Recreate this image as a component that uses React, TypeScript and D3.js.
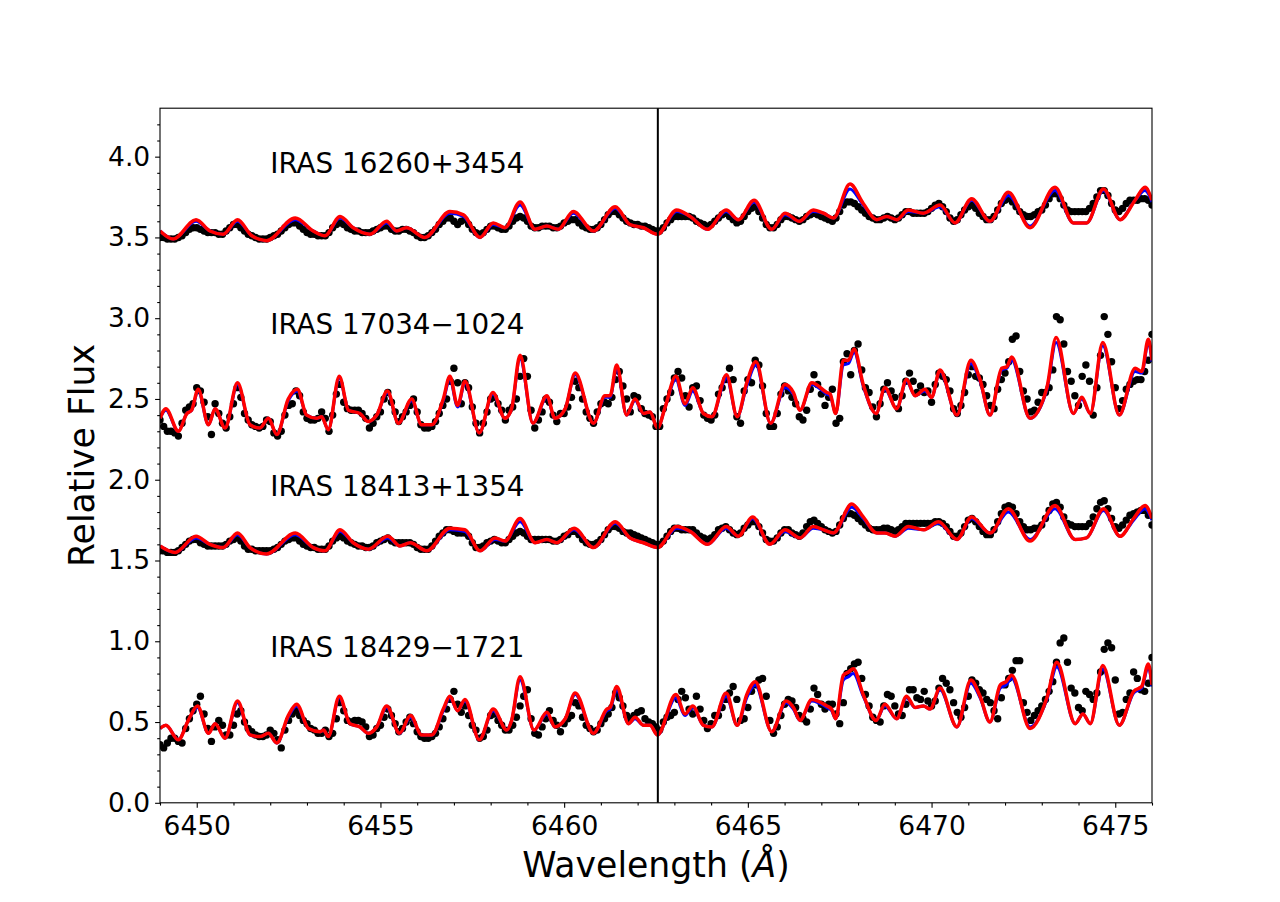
import React, { useEffect, useRef } from "react";
import * as d3 from "d3";

// figure geometry (matplotlib default subplot box on a 1280x902 canvas)
const WIDTH = 1280;
const HEIGHT = 902;
const LEFT = 160;
const RIGHT = 1152;
const TOP = 108.2;
const BOTTOM = 802.8;

const X_DOMAIN = [6449, 6476];
const Y_DOMAIN = [0, 4.3];
const X_MAJOR = [6450, 6455, 6460, 6465, 6470, 6475];
const Y_MAJOR = [0, 0.5, 1, 1.5, 2, 2.5, 3, 3.5, 4];
const ORDER_EDGE = 6462.55; // vertical marker between the two echelle orders

// observed spectra: one point every 0.1 A starting at 6449.0 A
const OBS_START = 6449.0;
const OBS_STEP = 0.1;

const obs16260 = [
  3.50, 3.50, 3.49, 3.49, 3.49, 3.50, 3.51, 3.53, 3.55, 3.56,
  3.56, 3.55, 3.54, 3.53, 3.53, 3.53, 3.52, 3.52, 3.54, 3.56,
  3.58, 3.58, 3.56, 3.54, 3.52, 3.51, 3.50, 3.49, 3.49, 3.49,
  3.50, 3.51, 3.52, 3.54, 3.56, 3.58, 3.59, 3.59, 3.57, 3.55,
  3.53, 3.52, 3.52, 3.51, 3.51, 3.51, 3.53, 3.56, 3.58, 3.59,
  3.58, 3.56, 3.55, 3.54, 3.54, 3.53, 3.53, 3.53, 3.54, 3.55,
  3.56, 3.57, 3.57, 3.55, 3.54, 3.54, 3.55, 3.55, 3.54, 3.53,
  3.51, 3.50, 3.50, 3.51, 3.53, 3.55, 3.58, 3.60, 3.62, 3.62,
  3.60, 3.58, 3.60, 3.61, 3.58, 3.55, 3.53, 3.52, 3.53, 3.55,
  3.57, 3.57, 3.56, 3.55, 3.55, 3.57, 3.60, 3.62, 3.63, 3.62,
  3.60, 3.57, 3.56, 3.56, 3.57, 3.57, 3.57, 3.56, 3.56, 3.57,
  3.59, 3.60, 3.61, 3.61, 3.59, 3.57, 3.56, 3.55, 3.55, 3.56,
  3.58, 3.61, 3.64, 3.66, 3.66, 3.64, 3.62, 3.60, 3.59, 3.58,
  3.58, 3.57, 3.57, 3.56, 3.55, 3.54, 3.54, 3.56, 3.59, 3.61,
  3.63, 3.63, 3.63, 3.63, 3.63, 3.62, 3.60, 3.59, 3.58, 3.57,
  3.58, 3.60, 3.62, 3.64, 3.65, 3.63, 3.61, 3.59, 3.60, 3.63,
  3.66, 3.68, 3.69, 3.66, 3.62, 3.58, 3.56, 3.56, 3.58, 3.61,
  3.63, 3.63, 3.62, 3.61, 3.60, 3.61, 3.63, 3.64, 3.65, 3.64,
  3.63, 3.62, 3.61, 3.60, 3.62, 3.66, 3.70, 3.72, 3.72, 3.71,
  3.69, 3.67, 3.65, 3.63, 3.62, 3.61, 3.61, 3.62, 3.63, 3.62,
  3.61, 3.62, 3.64, 3.66, 3.66, 3.65, 3.65, 3.65, 3.65, 3.66,
  3.68, 3.70, 3.71, 3.69, 3.66, 3.62, 3.60, 3.61, 3.64, 3.67,
  3.69, 3.70, 3.68, 3.65, 3.63, 3.61, 3.61, 3.63, 3.67, 3.71,
  3.73, 3.74, 3.72, 3.69, 3.66, 3.64, 3.63, 3.63, 3.64, 3.66,
  3.67, 3.70, 3.74, 3.77, 3.77, 3.74, 3.70, 3.67, 3.66, 3.66,
  3.66, 3.66, 3.66, 3.68, 3.71, 3.75, 3.79, 3.79, 3.76, 3.71,
  3.67, 3.66, 3.68, 3.71, 3.73, 3.73, 3.73, 3.74, 3.74, 3.73,
  3.70,
];

const obs17034 = [
  2.37, 2.33, 2.30, 2.30, 2.29, 2.27, 2.35, 2.43, 2.45, 2.47,
  2.57, 2.55, 2.48, 2.39, 2.28, 2.47, 2.41, 2.35, 2.32, 2.39,
  2.47, 2.57, 2.51, 2.41, 2.37, 2.34, 2.33, 2.32, 2.33, 2.37,
  2.36, 2.29, 2.27, 2.30, 2.40, 2.46, 2.47, 2.55, 2.52, 2.42,
  2.38, 2.37, 2.37, 2.38, 2.42, 2.38, 2.30, 2.40, 2.53, 2.59,
  2.48, 2.44, 2.43, 2.43, 2.43, 2.41, 2.38, 2.32, 2.35, 2.39,
  2.42, 2.50, 2.54, 2.48, 2.42, 2.36, 2.39, 2.42, 2.46, 2.50,
  2.42, 2.34, 2.32, 2.32, 2.33, 2.36, 2.41, 2.46, 2.50, 2.61,
  2.69, 2.60, 2.47, 2.60, 2.57, 2.45, 2.35, 2.29, 2.35, 2.42,
  2.50, 2.51, 2.47, 2.43, 2.37, 2.43, 2.45, 2.50, 2.64, 2.75,
  2.64, 2.43, 2.32, 2.37, 2.42, 2.50, 2.48, 2.40, 2.36, 2.41,
  2.41, 2.45, 2.51, 2.61, 2.57, 2.50, 2.42, 2.38, 2.35, 2.42,
  2.47, 2.48, 2.47, 2.51, 2.62, 2.67, 2.58, 2.50, 2.42, 2.52,
  2.51, 2.44, 2.41, 2.40, 2.39, 2.33, 2.33, 2.44, 2.50, 2.54,
  2.63, 2.67, 2.63, 2.52, 2.45, 2.57, 2.58, 2.49, 2.40, 2.38,
  2.37, 2.40, 2.53, 2.57, 2.62, 2.69, 2.62, 2.39, 2.35, 2.55,
  2.62, 2.60, 2.74, 2.71, 2.58, 2.41, 2.33, 2.33, 2.41, 2.53,
  2.58, 2.55, 2.51, 2.47, 2.39, 2.37, 2.43, 2.56, 2.65, 2.59,
  2.53, 2.46, 2.51, 2.56, 2.35, 2.38, 2.73, 2.78, 2.65, 2.80,
  2.84, 2.68, 2.57, 2.54, 2.45, 2.39, 2.47, 2.56, 2.60, 2.55,
  2.51, 2.44, 2.52, 2.61, 2.66, 2.61, 2.54, 2.58, 2.54, 2.55,
  2.48, 2.59, 2.66, 2.64, 2.62, 2.55, 2.44, 2.41, 2.46, 2.54,
  2.65, 2.70, 2.64, 2.63, 2.59, 2.52, 2.46, 2.44, 2.56, 2.62,
  2.66, 2.73, 2.87, 2.89, 2.67, 2.55, 2.50, 2.42, 2.43, 2.48,
  2.54, 2.54, 2.57, 2.68, 3.01, 2.99, 2.84, 2.67, 2.61, 2.52,
  2.46, 2.64, 2.71, 2.61, 2.40, 2.57, 2.77, 3.01, 2.90, 2.73,
  2.57, 2.44, 2.49, 2.56, 2.59, 2.61, 2.62, 2.62, 2.67, 2.74,
  2.90,
];

const obs18413 = [
  1.56, 1.56, 1.55, 1.55, 1.55, 1.56, 1.58, 1.60, 1.62, 1.63,
  1.63, 1.61, 1.60, 1.59, 1.59, 1.59, 1.59, 1.59, 1.60, 1.62,
  1.63, 1.64, 1.62, 1.59, 1.57, 1.57, 1.56, 1.56, 1.56, 1.56,
  1.56, 1.57, 1.58, 1.60, 1.62, 1.63, 1.64, 1.64, 1.62, 1.60,
  1.59, 1.58, 1.58, 1.57, 1.57, 1.57, 1.59, 1.62, 1.64, 1.65,
  1.64, 1.62, 1.61, 1.60, 1.59, 1.59, 1.58, 1.58, 1.59, 1.61,
  1.62, 1.63, 1.64, 1.62, 1.61, 1.61, 1.61, 1.61, 1.61, 1.60,
  1.58, 1.57, 1.57, 1.57, 1.59, 1.62, 1.65, 1.67, 1.69, 1.69,
  1.68, 1.67, 1.67, 1.67, 1.65, 1.61, 1.58, 1.58, 1.59, 1.61,
  1.62, 1.63, 1.62, 1.61, 1.61, 1.63, 1.65, 1.67, 1.68, 1.67,
  1.65, 1.63, 1.63, 1.63, 1.63, 1.63, 1.63, 1.62, 1.62, 1.63,
  1.65, 1.66, 1.68, 1.68, 1.66, 1.63, 1.61, 1.60, 1.60, 1.61,
  1.63, 1.66, 1.69, 1.71, 1.71, 1.70, 1.68, 1.67, 1.67, 1.66,
  1.65, 1.64, 1.63, 1.62, 1.61, 1.60, 1.60, 1.62, 1.65, 1.68,
  1.70, 1.70, 1.69, 1.69, 1.69, 1.69, 1.67, 1.65, 1.64, 1.63,
  1.64, 1.66, 1.69, 1.70, 1.71, 1.69, 1.67, 1.66, 1.67, 1.70,
  1.72, 1.74, 1.74, 1.71, 1.67, 1.63, 1.62, 1.62, 1.64, 1.67,
  1.69, 1.69, 1.67, 1.66, 1.65, 1.67, 1.71, 1.74, 1.75, 1.73,
  1.71, 1.69, 1.68, 1.67, 1.68, 1.72, 1.76, 1.79, 1.79, 1.78,
  1.76, 1.74, 1.72, 1.70, 1.69, 1.69, 1.69, 1.70, 1.70, 1.69,
  1.68, 1.69, 1.71, 1.73, 1.73, 1.73, 1.73, 1.73, 1.73, 1.73,
  1.73, 1.74, 1.74, 1.73, 1.71, 1.68, 1.65, 1.65, 1.67, 1.71,
  1.75, 1.76, 1.74, 1.71, 1.68, 1.66, 1.66, 1.69, 1.74, 1.79,
  1.83, 1.84, 1.83, 1.79, 1.74, 1.71, 1.69, 1.69, 1.70, 1.70,
  1.72, 1.76, 1.81, 1.85, 1.86, 1.83, 1.77, 1.73, 1.72, 1.71,
  1.71, 1.71, 1.71, 1.73, 1.77, 1.82, 1.86, 1.87, 1.82, 1.76,
  1.71, 1.70, 1.72, 1.75, 1.78, 1.79, 1.80, 1.81, 1.81, 1.78,
  1.72,
];

const obs18429 = [
  0.36, 0.34, 0.37, 0.40, 0.40, 0.38, 0.37, 0.46, 0.52, 0.57,
  0.61, 0.66, 0.55, 0.46, 0.38, 0.47, 0.51, 0.48, 0.42, 0.42,
  0.48, 0.55, 0.57, 0.50, 0.46, 0.44, 0.42, 0.41, 0.41, 0.42,
  0.45, 0.43, 0.39, 0.34, 0.45, 0.51, 0.55, 0.57, 0.54, 0.51,
  0.49, 0.46, 0.45, 0.43, 0.43, 0.45, 0.41, 0.43, 0.52, 0.62,
  0.57, 0.51, 0.50, 0.51, 0.51, 0.50, 0.47, 0.41, 0.42, 0.46,
  0.48, 0.53, 0.58, 0.54, 0.49, 0.44, 0.46, 0.50, 0.53, 0.49,
  0.44, 0.41, 0.40, 0.40, 0.41, 0.43, 0.47, 0.52, 0.58, 0.64,
  0.69, 0.61, 0.56, 0.60, 0.54, 0.48, 0.45, 0.40, 0.41, 0.45,
  0.54, 0.55, 0.51, 0.48, 0.45, 0.45, 0.48, 0.53, 0.60, 0.66,
  0.70, 0.52, 0.43, 0.42, 0.47, 0.52, 0.57, 0.51, 0.48, 0.44,
  0.49, 0.52, 0.54, 0.62, 0.60, 0.53, 0.48, 0.46, 0.44, 0.45,
  0.49, 0.52, 0.55, 0.59, 0.68, 0.65, 0.60, 0.54, 0.52, 0.54,
  0.56, 0.57, 0.52, 0.50, 0.49, 0.47, 0.45, 0.50, 0.53, 0.54,
  0.56, 0.64, 0.69, 0.65, 0.58, 0.55, 0.66, 0.58, 0.51, 0.46,
  0.49, 0.54, 0.54, 0.59, 0.64, 0.68, 0.72, 0.64, 0.51, 0.52,
  0.59, 0.69, 0.73, 0.76, 0.77, 0.66, 0.51, 0.43, 0.47, 0.54,
  0.61, 0.64, 0.63, 0.59, 0.54, 0.52, 0.50, 0.58, 0.71, 0.67,
  0.61, 0.58, 0.61, 0.61, 0.55, 0.49, 0.62, 0.80, 0.83, 0.86,
  0.87, 0.77, 0.67, 0.60, 0.53, 0.51, 0.50, 0.60, 0.67, 0.66,
  0.60, 0.55, 0.54, 0.61, 0.70, 0.70, 0.65, 0.64, 0.69, 0.63,
  0.60, 0.63, 0.71, 0.77, 0.74, 0.70, 0.62, 0.56, 0.53, 0.59,
  0.66, 0.76, 0.74, 0.70, 0.68, 0.64, 0.62, 0.57, 0.52, 0.65,
  0.73, 0.77, 0.82, 0.88, 0.88, 0.62, 0.56, 0.51, 0.54, 0.57,
  0.60, 0.64, 0.69, 0.75, 0.87, 0.99, 1.02, 0.87, 0.71, 0.68,
  0.59, 0.57, 0.69, 0.67, 0.64, 0.68, 0.81, 0.95, 0.99, 0.96,
  0.76, 0.55, 0.56, 0.64, 0.68, 0.81, 0.77, 0.70, 0.69, 0.74,
  0.90,
];

// synthetic spectra: knots (wavelength, flux) at the extrema of the fitted models
const modelWave16260 = [
  6449.00, 6449.36, 6449.98, 6450.36, 6450.72, 6451.11, 6451.50, 6451.90, 6452.68, 6453.17,
  6453.49, 6453.90, 6454.26, 6454.72, 6455.17, 6455.44, 6455.71, 6456.21, 6456.89, 6457.26,
  6457.71, 6458.07, 6458.39, 6458.80, 6459.21, 6459.53, 6459.84, 6460.25, 6460.80, 6461.39,
  6461.79, 6462.16, 6462.54, 6463.06, 6463.43, 6463.90, 6464.41, 6464.74, 6465.17, 6465.65,
  6466.01, 6466.40, 6466.78, 6467.06, 6467.33, 6467.78, 6468.14, 6468.51, 6468.78, 6469.05,
  6469.37, 6469.78, 6470.23, 6470.64, 6471.09, 6471.59, 6472.09, 6472.68, 6473.36, 6473.86,
  6474.22, 6474.68, 6475.13, 6475.54, 6475.81, 6476.00,
];
const redFlux16260 = [
  3.54, 3.49, 3.61, 3.54, 3.52, 3.61, 3.51, 3.48, 3.62, 3.54,
  3.51, 3.63, 3.56, 3.52, 3.60, 3.54, 3.56, 3.50, 3.66, 3.64,
  3.50, 3.59, 3.56, 3.72, 3.55, 3.57, 3.55, 3.66, 3.54, 3.69,
  3.58, 3.56, 3.52, 3.67, 3.63, 3.55, 3.67, 3.61, 3.73, 3.55,
  3.65, 3.60, 3.67, 3.65, 3.62, 3.83, 3.71, 3.61, 3.63, 3.61,
  3.67, 3.65, 3.70, 3.59, 3.74, 3.60, 3.78, 3.56, 3.81, 3.59,
  3.59, 3.80, 3.61, 3.73, 3.81, 3.73,
];
const blueFlux16260 = [
  3.54, 3.49, 3.60, 3.54, 3.52, 3.60, 3.51, 3.48, 3.61, 3.54,
  3.51, 3.62, 3.56, 3.52, 3.59, 3.54, 3.56, 3.50, 3.65, 3.63,
  3.50, 3.58, 3.56, 3.70, 3.55, 3.57, 3.55, 3.65, 3.54, 3.68,
  3.58, 3.56, 3.52, 3.66, 3.63, 3.55, 3.66, 3.61, 3.72, 3.55,
  3.64, 3.60, 3.66, 3.65, 3.62, 3.80, 3.70, 3.61, 3.63, 3.61,
  3.66, 3.65, 3.69, 3.59, 3.73, 3.60, 3.76, 3.57, 3.79, 3.59,
  3.59, 3.79, 3.61, 3.73, 3.79, 3.72,
];

const modelWave17034 = [
  6449.00, 6449.16, 6449.50, 6449.73, 6449.86, 6450.04, 6450.32, 6450.50, 6450.77, 6451.11,
  6451.45, 6451.72, 6451.95, 6452.18, 6452.49, 6452.74, 6452.99, 6453.26, 6453.40, 6453.58,
  6453.88, 6454.13, 6454.44, 6454.67, 6454.90, 6455.19, 6455.49, 6455.85, 6456.12, 6456.40,
  6456.71, 6456.89, 6457.10, 6457.30, 6457.69, 6458.06, 6458.39, 6458.57, 6458.80, 6459.15,
  6459.53, 6459.75, 6460.03, 6460.30, 6460.80, 6461.11, 6461.25, 6461.43, 6461.70, 6461.93,
  6462.16, 6462.34, 6462.54, 6462.75, 6463.04, 6463.29, 6463.50, 6463.79, 6464.02, 6464.42,
  6464.71, 6464.97, 6465.22, 6465.62, 6466.01, 6466.24, 6466.42, 6466.74, 6467.15, 6467.24,
  6467.39, 6467.60, 6467.74, 6467.89, 6468.14, 6468.49, 6468.73, 6469.05, 6469.32, 6469.55,
  6469.82, 6470.00, 6470.23, 6470.69, 6471.07, 6471.32, 6471.59, 6471.91, 6472.05, 6472.18,
  6472.68, 6473.14, 6473.39, 6473.86, 6474.09, 6474.32, 6474.66, 6475.11, 6475.54, 6475.72,
  6475.90, 6476.00,
];
const redFlux17034 = [
  2.38, 2.44, 2.30, 2.41, 2.43, 2.56, 2.34, 2.44, 2.32, 2.60,
  2.34, 2.32, 2.38, 2.28, 2.50, 2.56, 2.40, 2.38, 2.39, 2.31,
  2.64, 2.43, 2.41, 2.36, 2.40, 2.55, 2.35, 2.50, 2.34, 2.34,
  2.50, 2.64, 2.46, 2.61, 2.29, 2.54, 2.38, 2.44, 2.77, 2.35,
  2.52, 2.38, 2.44, 2.66, 2.35, 2.52, 2.52, 2.71, 2.40, 2.50,
  2.41, 2.42, 2.32, 2.45, 2.64, 2.47, 2.57, 2.41, 2.39, 2.65,
  2.39, 2.60, 2.73, 2.35, 2.59, 2.54, 2.43, 2.60, 2.54, 2.53,
  2.41, 2.74, 2.74, 2.81, 2.59, 2.41, 2.57, 2.44, 2.62, 2.52,
  2.56, 2.51, 2.68, 2.40, 2.74, 2.62, 2.40, 2.69, 2.70, 2.76,
  2.38, 2.57, 2.88, 2.41, 2.51, 2.41, 2.85, 2.40, 2.69, 2.67,
  2.87, 2.74,
];
const blueFlux17034 = [
  2.38, 2.43, 2.30, 2.41, 2.43, 2.55, 2.34, 2.44, 2.32, 2.59,
  2.34, 2.32, 2.38, 2.28, 2.49, 2.55, 2.40, 2.38, 2.39, 2.31,
  2.63, 2.43, 2.41, 2.36, 2.40, 2.54, 2.35, 2.49, 2.34, 2.34,
  2.49, 2.62, 2.45, 2.60, 2.29, 2.53, 2.38, 2.44, 2.75, 2.35,
  2.51, 2.38, 2.44, 2.65, 2.35, 2.51, 2.51, 2.69, 2.40, 2.49,
  2.41, 2.42, 2.32, 2.45, 2.62, 2.46, 2.55, 2.41, 2.39, 2.63,
  2.39, 2.58, 2.71, 2.35, 2.57, 2.53, 2.43, 2.59, 2.53, 2.52,
  2.41, 2.71, 2.72, 2.79, 2.58, 2.41, 2.56, 2.44, 2.61, 2.52,
  2.55, 2.51, 2.67, 2.40, 2.72, 2.61, 2.40, 2.68, 2.69, 2.74,
  2.38, 2.56, 2.85, 2.41, 2.50, 2.41, 2.83, 2.40, 2.67, 2.66,
  2.85, 2.73,
];

const modelWave18413 = [
  6449.00, 6449.41, 6449.98, 6450.36, 6450.72, 6451.11, 6451.45, 6451.90, 6452.68, 6453.17,
  6453.49, 6453.90, 6454.26, 6454.67, 6455.20, 6455.53, 6455.81, 6456.26, 6456.89, 6457.30,
  6457.71, 6458.12, 6458.39, 6458.80, 6459.21, 6459.53, 6459.80, 6460.27, 6460.80, 6461.39,
  6461.79, 6462.16, 6462.54, 6463.06, 6463.43, 6463.90, 6464.41, 6464.74, 6465.13, 6465.60,
  6466.01, 6466.42, 6466.78, 6467.06, 6467.33, 6467.83, 6468.14, 6468.51, 6468.73, 6469.01,
  6469.37, 6469.78, 6470.19, 6470.69, 6471.09, 6471.59, 6472.09, 6472.68, 6473.36, 6473.91,
  6474.22, 6474.68, 6475.13, 6475.50, 6475.81, 6476.00,
];
const redFlux18413 = [
  1.59, 1.55, 1.65, 1.60, 1.58, 1.67, 1.58, 1.54, 1.67, 1.58,
  1.56, 1.69, 1.61, 1.57, 1.65, 1.59, 1.61, 1.56, 1.70, 1.69,
  1.56, 1.64, 1.62, 1.76, 1.61, 1.63, 1.61, 1.70, 1.58, 1.74,
  1.64, 1.61, 1.58, 1.71, 1.68, 1.60, 1.71, 1.65, 1.77, 1.60,
  1.69, 1.64, 1.71, 1.69, 1.67, 1.85, 1.77, 1.67, 1.67, 1.65,
  1.71, 1.69, 1.74, 1.63, 1.77, 1.67, 1.82, 1.62, 1.84, 1.63,
  1.64, 1.82, 1.65, 1.76, 1.84, 1.76,
];
const blueFlux18413 = [
  1.59, 1.55, 1.64, 1.60, 1.58, 1.66, 1.58, 1.54, 1.66, 1.58,
  1.56, 1.68, 1.61, 1.57, 1.64, 1.59, 1.61, 1.56, 1.69, 1.68,
  1.56, 1.63, 1.62, 1.74, 1.61, 1.63, 1.61, 1.69, 1.58, 1.73,
  1.64, 1.61, 1.58, 1.70, 1.68, 1.60, 1.70, 1.65, 1.76, 1.60,
  1.68, 1.64, 1.70, 1.69, 1.67, 1.83, 1.76, 1.67, 1.67, 1.65,
  1.70, 1.69, 1.73, 1.63, 1.76, 1.67, 1.80, 1.63, 1.82, 1.63,
  1.64, 1.81, 1.65, 1.75, 1.82, 1.75,
];

const modelWave18429 = [
  6449.00, 6449.16, 6449.50, 6449.77, 6450.02, 6450.32, 6450.50, 6450.77, 6451.11, 6451.45,
  6451.72, 6451.95, 6452.18, 6452.49, 6452.72, 6453.04, 6453.36, 6453.45, 6453.58, 6453.88,
  6454.17, 6454.44, 6454.67, 6454.90, 6455.17, 6455.52, 6455.82, 6456.12, 6456.40, 6456.71,
  6456.89, 6457.10, 6457.30, 6457.69, 6458.07, 6458.44, 6458.57, 6458.80, 6459.18, 6459.53,
  6459.75, 6460.03, 6460.30, 6460.80, 6461.16, 6461.25, 6461.43, 6461.75, 6461.93, 6462.16,
  6462.34, 6462.54, 6463.04, 6463.29, 6463.50, 6463.79, 6464.02, 6464.41, 6464.71, 6464.97,
  6465.20, 6465.65, 6466.04, 6466.24, 6466.42, 6466.74, 6467.15, 6467.28, 6467.39, 6467.60,
  6467.74, 6467.87, 6468.14, 6468.49, 6468.73, 6469.05, 6469.32, 6469.55, 6469.78, 6469.96,
  6470.23, 6470.69, 6471.07, 6471.32, 6471.59, 6471.87, 6472.03, 6472.18, 6472.68, 6473.14,
  6473.41, 6473.91, 6474.12, 6474.32, 6474.66, 6475.11, 6475.50, 6475.72, 6475.90, 6476.00,
];
const redFlux18429 = [
  0.46, 0.48, 0.39, 0.51, 0.60, 0.43, 0.49, 0.40, 0.63, 0.42,
  0.41, 0.43, 0.37, 0.54, 0.61, 0.46, 0.44, 0.45, 0.41, 0.66,
  0.49, 0.47, 0.43, 0.47, 0.60, 0.43, 0.54, 0.42, 0.42, 0.58,
  0.66, 0.57, 0.64, 0.39, 0.58, 0.45, 0.51, 0.78, 0.45, 0.56,
  0.47, 0.52, 0.68, 0.43, 0.58, 0.59, 0.72, 0.49, 0.53, 0.48,
  0.48, 0.42, 0.67, 0.55, 0.60, 0.48, 0.47, 0.68, 0.48, 0.67,
  0.75, 0.44, 0.63, 0.59, 0.51, 0.64, 0.60, 0.58, 0.52, 0.79,
  0.81, 0.83, 0.67, 0.51, 0.61, 0.52, 0.66, 0.59, 0.60, 0.58,
  0.71, 0.47, 0.76, 0.66, 0.50, 0.73, 0.75, 0.79, 0.46, 0.65,
  0.87, 0.49, 0.55, 0.49, 0.85, 0.48, 0.69, 0.72, 0.86, 0.73,
];
const blueFlux18429 = [
  0.46, 0.48, 0.39, 0.51, 0.59, 0.43, 0.49, 0.40, 0.62, 0.42,
  0.41, 0.43, 0.37, 0.53, 0.60, 0.46, 0.44, 0.45, 0.41, 0.65,
  0.49, 0.47, 0.43, 0.47, 0.59, 0.43, 0.53, 0.42, 0.42, 0.57,
  0.65, 0.57, 0.63, 0.39, 0.57, 0.45, 0.51, 0.76, 0.45, 0.55,
  0.47, 0.52, 0.67, 0.43, 0.57, 0.58, 0.70, 0.49, 0.52, 0.48,
  0.48, 0.42, 0.65, 0.54, 0.59, 0.48, 0.47, 0.66, 0.48, 0.65,
  0.73, 0.44, 0.62, 0.58, 0.51, 0.63, 0.59, 0.57, 0.52, 0.76,
  0.78, 0.80, 0.66, 0.51, 0.60, 0.52, 0.65, 0.59, 0.60, 0.58,
  0.70, 0.47, 0.74, 0.65, 0.50, 0.71, 0.73, 0.77, 0.47, 0.64,
  0.84, 0.49, 0.55, 0.49, 0.83, 0.48, 0.68, 0.71, 0.84, 0.72,
];

const starNames = ["IRAS 16260+3454", "IRAS 17034\u22121024", "IRAS 18413+1354", "IRAS 18429\u22121721"];
const labelWave = 6452.0;
const labelFlux = [3.9, 2.9, 1.9, 0.9];

const FONT = "'DejaVu Sans', Verdana, sans-serif";

const App = () => {
  const ref = useRef<SVGSVGElement>(null);

  useEffect(() => {
    const svg = d3.select(ref.current);
    svg.selectAll("*").remove();

    const x = d3.scaleLinear().domain(X_DOMAIN).range([LEFT, RIGHT]);
    const y = d3.scaleLinear().domain(Y_DOMAIN).range([BOTTOM, TOP]);

    svg.append("rect").attr("width", WIDTH).attr("height", HEIGHT).attr("fill", "#fff");

    svg
      .append("defs")
      .append("clipPath")
      .attr("id", "plot-area")
      .append("rect")
      .attr("x", LEFT)
      .attr("y", TOP)
      .attr("width", RIGHT - LEFT)
      .attr("height", BOTTOM - TOP);

    const spectra = [
      { obs: obs16260, wave: modelWave16260, red: redFlux16260, blue: blueFlux16260 },
      { obs: obs17034, wave: modelWave17034, red: redFlux17034, blue: blueFlux17034 },
      { obs: obs18413, wave: modelWave18413, red: redFlux18413, blue: blueFlux18413 },
      { obs: obs18429, wave: modelWave18429, red: redFlux18429, blue: blueFlux18429 },
    ];

    const plot = svg.append("g").attr("clip-path", "url(#plot-area)");
    const line = d3
      .line<[number, number]>()
      .x((d) => x(d[0]))
      .y((d) => y(d[1]))
      .curve(d3.curveMonotoneX);

    spectra.forEach((s) => {
      const pts = s.obs.map((f, i) => [OBS_START + i * OBS_STEP, f]);
      plot
        .append("g")
        .selectAll("circle")
        .data(pts)
        .join("circle")
        .attr("cx", (d) => x(d[0]))
        .attr("cy", (d) => y(d[1]))
        .attr("r", 3.7)
        .attr("fill", "#000");

      plot
        .append("path")
        .datum(d3.zip(s.wave, s.blue) as [number, number][])
        .attr("d", line)
        .attr("fill", "none")
        .attr("stroke", "#0000ff")
        .attr("stroke-width", 3);

      plot
        .append("path")
        .datum(d3.zip(s.wave, s.red) as [number, number][])
        .attr("d", line)
        .attr("fill", "none")
        .attr("stroke", "#ff0000")
        .attr("stroke-width", 3.5)
        .attr("stroke-linejoin", "round");
    });

    // order boundary
    svg
      .append("line")
      .attr("x1", x(ORDER_EDGE))
      .attr("x2", x(ORDER_EDGE))
      .attr("y1", TOP)
      .attr("y2", BOTTOM)
      .attr("stroke", "#000")
      .attr("stroke-width", 2);

    // star labels
    starNames.forEach((name, i) => {
      svg
        .append("text")
        .attr("x", x(labelWave))
        .attr("y", y(labelFlux[i]))
        .attr("font-family", FONT)
        .attr("font-size", 27.8)
        .attr("fill", "#000")
        .text(name);
    });

    // axes
    const styleAxis = (g) => {
      g.select(".domain").remove();
      g.selectAll("line").attr("stroke", "#000").attr("stroke-width", 1.1);
      g.selectAll("text").attr("font-family", FONT).attr("font-size", 26.5).attr("fill", "#000");
    };

    const xMinor = d3.range(6449, 6477, 1).filter((v) => !X_MAJOR.includes(v));
    const yMinor = d3.range(0, 43).map((v) => v / 10).filter((v) => Math.round(v * 10) % 5 !== 0);

    svg
      .append("g")
      .attr("transform", `translate(0,${BOTTOM})`)
      .call(d3.axisBottom(x).tickValues(xMinor).tickSize(2.8).tickFormat(() => ""))
      .call(styleAxis);
    svg
      .append("g")
      .attr("transform", `translate(0,${BOTTOM})`)
      .call(d3.axisBottom(x).tickValues(X_MAJOR).tickSize(4.9).tickPadding(8).tickFormat(d3.format("d")))
      .call(styleAxis);

    svg
      .append("g")
      .attr("transform", `translate(${LEFT},0)`)
      .call(d3.axisLeft(y).tickValues(yMinor).tickSize(2.8).tickFormat(() => ""))
      .call(styleAxis);
    svg
      .append("g")
      .attr("transform", `translate(${LEFT},0)`)
      .call(d3.axisLeft(y).tickValues(Y_MAJOR).tickSize(4.9).tickPadding(4.9).tickFormat(d3.format(".1f")))
      .call(styleAxis);

    // frame
    svg
      .append("rect")
      .attr("x", LEFT)
      .attr("y", TOP)
      .attr("width", RIGHT - LEFT)
      .attr("height", BOTTOM - TOP)
      .attr("fill", "none")
      .attr("stroke", "#000")
      .attr("stroke-width", 1.1);

    // axis titles
    const xTitle = svg
      .append("text")
      .attr("x", (LEFT + RIGHT) / 2)
      .attr("y", 877)
      .attr("text-anchor", "middle")
      .attr("font-family", FONT)
      .attr("font-size", 34.7)
      .attr("fill", "#000");
    xTitle.append("tspan").text("Wavelength (");
    xTitle.append("tspan").attr("font-style", "italic").text("\u00C5");
    xTitle.append("tspan").text(")");

    svg
      .append("text")
      .attr("transform", `translate(94,${(TOP + BOTTOM) / 2}) rotate(-90)`)
      .attr("text-anchor", "middle")
      .attr("font-family", FONT)
      .attr("font-size", 34.7)
      .attr("fill", "#000")
      .text("Relative Flux");
  }, []);

  return (
    <div style={{ position: "absolute", left: 0, top: 0 }}>
      <svg ref={ref} width={WIDTH} height={HEIGHT} style={{ display: "block" }}></svg>
    </div>
  );
};

export default App;
